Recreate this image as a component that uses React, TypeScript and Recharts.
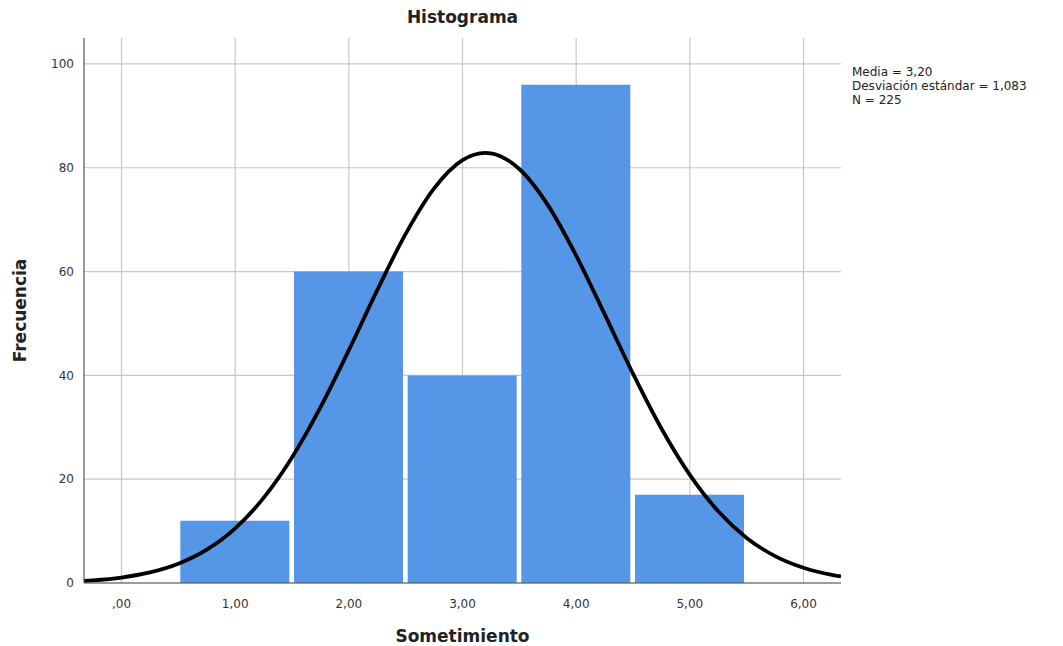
import React from 'react';
import { ComposedChart, Bar, Line, XAxis, YAxis, CartesianGrid } from 'recharts';

// histogram bins (centre of each bin) and their counts
const binCenters = [1, 2, 3, 4, 5];
const frequencies = [12, 60, 40, 96, 17];

// normal curve (Media = 3,20, Desv. = 1,083, N = 225)
const curveX = [-0.33, -0.25, 0, 0.25, 0.5, 0.75, 1, 1.25, 1.5, 1.75, 2, 2.25, 2.5, 2.75, 3, 3.2, 3.25, 3.5, 3.75, 4, 4.25, 4.5, 4.75, 5, 5.25, 5.5, 5.75, 6, 6.25, 6.33];
const curveY = [0.41, 0.52, 1.05, 2.03, 3.7, 6.41, 10.53, 16.39, 24.18, 33.82, 44.86, 56.42, 67.26, 76.03, 81.48, 82.88, 82.79, 79.76, 72.85, 63.09, 51.8, 40.33, 29.76, 20.83, 13.82, 8.69, 5.18, 2.93, 1.57, 1.27];

const xTicks = [0, 1, 2, 3, 4, 5, 6];
const yTicks = [0, 20, 40, 60, 80, 100];
const statLines = ['Media = 3,20', 'Desviación estándar = 1,083', 'N = 225'];

const barData = binCenters.map((x, i) => ({ x, freq: frequencies[i] }));
const curveData = curveX.map((x, i) => ({ x, curve: curveY[i] }));

const fmtX = (v: number) => (v === 0 ? ',00' : v.toFixed(2).replace('.', ','));

const font = '"DejaVu Sans", "Open Sans", sans-serif';
const xDomain: [number, number] = [-0.33, 6.33];

export default function App() {
  return (
    <div style={{ position: 'absolute', left: 0, top: 0, width: 1063, height: 646, background: '#fff', fontFamily: font }}>
      <div style={{ position: 'absolute', left: 84, width: 757, top: 7, textAlign: 'center', fontWeight: 700, fontSize: 17, color: '#222' }}>
        Histograma
      </div>
      <div style={{ position: 'absolute', left: 852, top: 65, fontSize: 12, lineHeight: '14px', color: '#222', whiteSpace: 'nowrap' }}>
        {statLines.map((s) => (
          <div key={s}>{s}</div>
        ))}
      </div>
      <ComposedChart
        width={1063}
        height={646}
        data={barData}
        margin={{ top: 38, right: 222, bottom: 0, left: 0 }}
      >
        <CartesianGrid stroke="#c8c8c8" strokeWidth={1.2} horizontalValues={yTicks} verticalValues={xTicks} />
        <XAxis
          dataKey="x"
          type="number"
          domain={xDomain}
          ticks={xTicks}
          tickFormatter={fmtX}
          allowDataOverflow
          height={63}
          tickLine={false}
          tickMargin={10}
          axisLine={{ stroke: '#555', strokeWidth: 1.2 }}
          tick={{ fill: '#333', fontSize: 12, fontFamily: font }}
          label={{ value: 'Sometimiento', position: 'insideBottom', offset: 4, fill: '#222', fontSize: 17, fontWeight: 700, fontFamily: font }}
        />
        <XAxis xAxisId="curve" dataKey="x" type="number" domain={xDomain} allowDataOverflow hide />
        <YAxis
          type="number"
          domain={[0, 105]}
          ticks={yTicks}
          allowDataOverflow
          width={84}
          tickLine={false}
          tickMargin={4}
          axisLine={{ stroke: '#555', strokeWidth: 1.2 }}
          tick={{ fill: '#333', fontSize: 12, fontFamily: font }}
          label={{ value: 'Frecuencia', angle: -90, position: 'insideLeft', offset: 20, fill: '#222', fontSize: 17, fontWeight: 700, fontFamily: font, style: { textAnchor: 'middle' } }}
        />
        <Bar dataKey="freq" fill="#5596e6" barSize={109} isAnimationActive={false} />
        <Line
          xAxisId="curve"
          data={curveData}
          dataKey="curve"
          type="monotone"
          stroke="#000"
          strokeWidth={3.8}
          dot={false}
          isAnimationActive={false}
        />
      </ComposedChart>
    </div>
  );
}
